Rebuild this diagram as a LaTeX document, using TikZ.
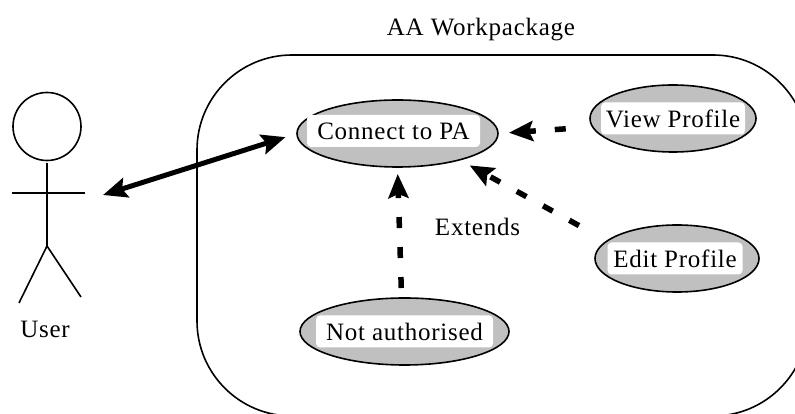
\documentclass[tikz,border=0pt]{standalone}
\usepackage{fontspec}
\setmainfont[LetterSpace=3]{Liberation Serif}
\usepackage{xcolor}
\usetikzlibrary{positioning,shapes.geometric,arrows.meta}
\definecolor{usecasegray}{RGB}{192,192,192}

\begin{document}
\begin{tikzpicture}[x=1pt,y=1pt,
    usecase/.style={ellipse,draw,line width=1.6pt,fill=usecasegray,inner sep=0pt,outer sep=0pt,minimum height=67pt},
    uselabel/.style={rectangle,rounded corners=4pt,fill=white,inner sep=0pt,minimum height=32pt,font=\fontsize{25}{28}\selectfont},
    plaintext/.style={inner sep=0pt,font=\fontsize{25}{28}\selectfont},
    actorline/.style={line width=1.6pt},
    extendarrow/.style={-{Stealth[length=24pt,width=20pt,inset=4pt]},line width=5.5pt,dash pattern=on 11pt off 19pt},
    linkarrow/.style={{Stealth[length=24pt,width=20pt,inset=4pt]}-{Stealth[length=24pt,width=20pt,inset=4pt]},line width=5pt}]

    \useasboundingbox (0,0) rectangle (795,414);

    \node[rectangle,draw,line width=1.6pt,rounded corners=95pt,minimum width=611pt,minimum height=361pt] (workpackage) at (502.5,178.5) {};
    \node[plaintext] (workpackagetext) at (481,384) {AA Workpackage};

    \node[usecase,minimum width=201pt] (connect) at (397.5,280.5) {};
    \node[usecase,minimum width=166pt,right=92pt of connect,yshift=15pt] (viewprofile) {};
    \node[usecase,minimum width=164pt,right=97pt of connect,yshift=-125pt] (editprofile) {};
    \node[usecase,minimum width=209pt,below=131pt of connect,xshift=7pt] (notauthorised) {};

    \node[uselabel,minimum width=173pt] (connectlabel) at ([xshift=-4pt,yshift=2.5pt]connect) {Connect to PA};
    \node[uselabel,minimum width=144pt] (viewlabel) at (viewprofile) {View Profile};
    \node[uselabel,minimum width=135pt] (editlabel) at ([xshift=-2pt]editprofile) {Edit Profile};
    \node[uselabel,minimum width=177pt] (notlabel) at (notauthorised) {Not authorised};

    % stick figure
    \node[circle,draw,line width=1.6pt,inner sep=0pt,outer sep=0pt,minimum size=68pt] (userhead) at (47,287.5) {};
    \coordinate (userhip) at (47,168);
    \coordinate (userarmleft) at (12,221);
    \coordinate (userarmright) at (85,221);
    \coordinate (userfootleft) at (19,111);
    \coordinate (userfootright) at (81,117);
    \coordinate (userlink) at (103,219);
    \draw[actorline] ([yshift=-3pt]userhead.south) -- (userhip);
    \draw[actorline] (userarmleft) -- (userarmright);
    \draw[actorline] (userfootleft) -- (userhip) -- (userfootright);
    \node[plaintext] (usertext) at (45,85) {User};

    \draw[linkarrow,shorten >=12pt] (userlink) -- (connect.west);
    \draw[extendarrow,shorten <=27pt,shorten >=11pt] (viewprofile.186) -- (connect.0);
    \draw[extendarrow,shorten <=32pt,shorten >=11.5pt] (editprofile.166) -- (connect.-23);
    \draw[extendarrow,shorten <=10pt,shorten >=7pt] (notauthorised.95) -- (connect.270);
    \node[plaintext] (extendstext) at (477.5,187) {Extends};

\end{tikzpicture}
\end{document}
